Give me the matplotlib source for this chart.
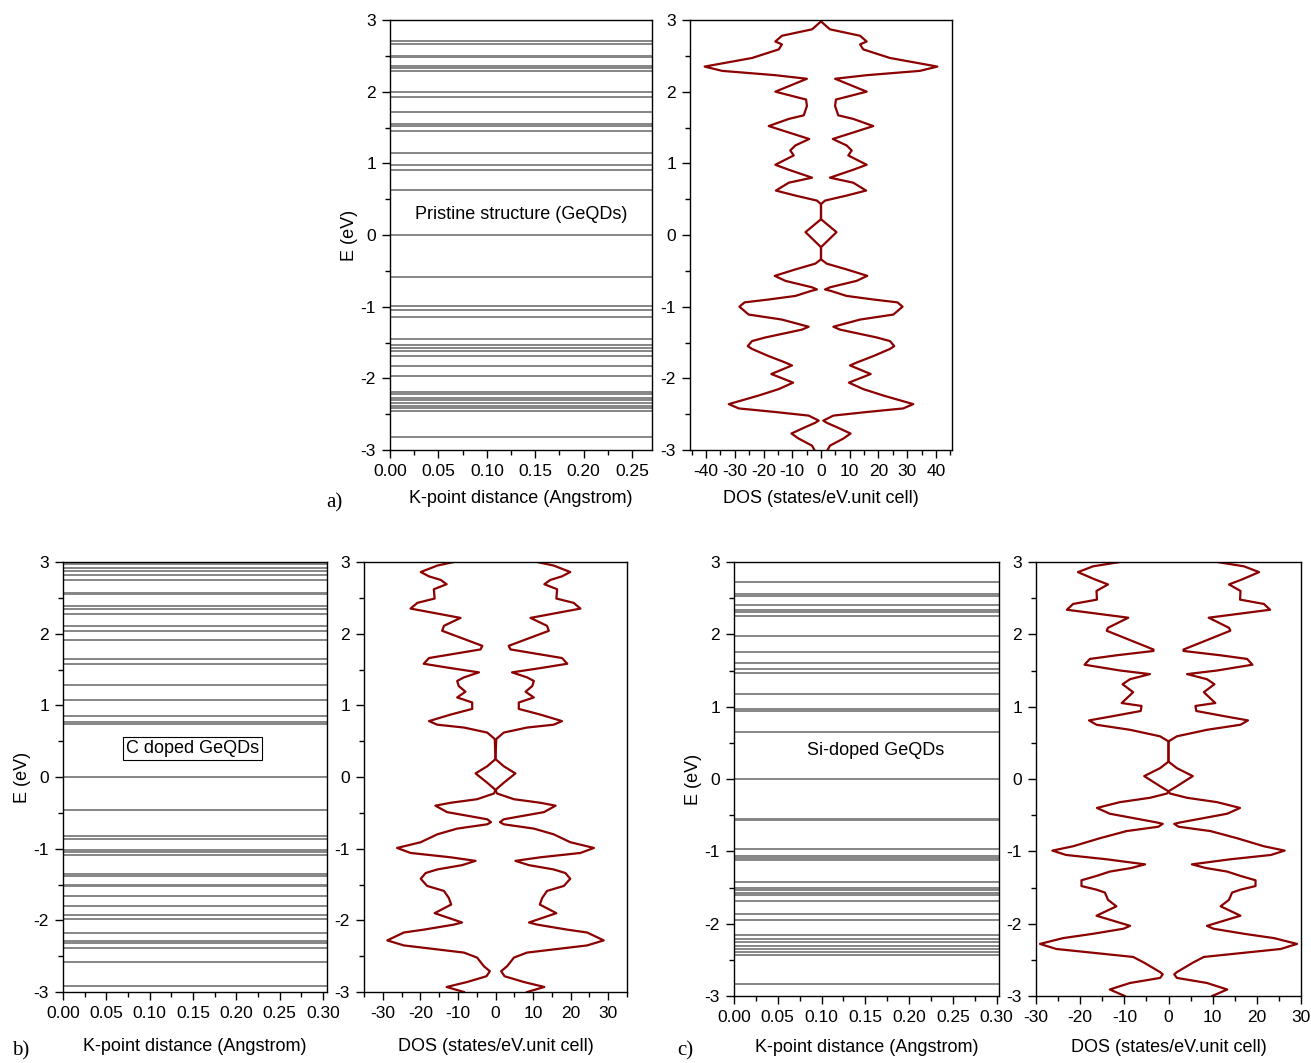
import matplotlib
matplotlib.use("Agg")
from matplotlib import pyplot as plt
from matplotlib.ticker import MultipleLocator, FormatStrFormatter
import numpy as np

plt.rcParams["font.family"] = ["Liberation Sans", "DejaVu Sans"]
plt.rcParams["axes.unicode_minus"] = False

# energy levels (eV) for each structure
levels_a = [2.71, 2.67, 2.50, 2.48, 2.36, 2.33, 2.29, 1.99, 1.93, 1.72, 1.55, 1.52,
            1.45, 1.14, 0.97, 0.91, 0.63, 0.0, -0.59, -0.99, -1.04, -1.15, -1.45,
            -1.54, -1.57, -1.62, -1.69, -1.83, -1.97, -2.19, -2.22, -2.27, -2.30,
            -2.34, -2.38, -2.42, -2.46, -2.82]
levels_b = [2.99, 2.97, 2.92, 2.87, 2.82, 2.75, 2.57, 2.55, 2.38, 2.34, 2.27, 2.11,
            2.04, 1.91, 1.64, 1.57, 1.28, 1.07, 0.85, 0.77, 0.74, 0.0, -0.46, -0.82,
            -0.86, -1.02, -1.05, -1.09, -1.36, -1.38, -1.50, -1.52, -1.66, -1.80,
            -1.92, -1.98, -2.17, -2.29, -2.32, -2.38, -2.58, -2.92]
levels_c = [2.73, 2.56, 2.53, 2.40, 2.34, 2.31, 2.26, 1.98, 1.75, 1.61, 1.52, 1.46,
            1.17, 0.97, 0.94, 0.65, 0.0, -0.55, -0.57, -0.97, -1.06, -1.09, -1.12,
            -1.43, -1.50, -1.53, -1.57, -1.61, -1.69, -1.86, -1.95, -2.16, -2.21,
            -2.26, -2.31, -2.35, -2.39, -2.43, -2.84]

# density of states (states/eV.unit cell), mirrored about zero
dos_a_E = [2.98, 2.87, 2.78, 2.70, 2.66, 2.59, 2.47, 2.35, 2.29, 2.23, 2.18, 2.00,
           1.89, 1.80, 1.67, 1.62, 1.52, 1.43, 1.34, 1.25, 1.18, 1.11, 0.98, 0.91,
           0.80, 0.73, 0.62, 0.55, 0.48, 0.43, 0.22, 0.04, -0.17, -0.34, -0.40,
           -0.48, -0.57, -0.64, -0.73, -0.76, -0.78, -0.85, -0.90, -0.94, -1.00,
           -1.11, -1.18, -1.28, -1.32, -1.43, -1.48, -1.55, -1.59, -1.69, -1.78,
           -1.82, -1.94, -2.06, -2.15, -2.24, -2.36, -2.42, -2.47, -2.52, -2.59,
           -2.62, -2.68, -2.77, -2.84, -2.94, -3.00]
dos_a = [0.0, 3.1, 13.6, 15.9, 13.6, 14.7, 24.0, 40.5, 34.4, 15.9, 4.9, 15.9,
         5.2, 4.9, 6.0, 11.2, 18.2, 11.2, 4.1, 8.9, 10.7, 9.5, 15.9, 11.2,
         3.1, 11.2, 15.7, 8.9, 1.4, 0.0, 0.0, 5.4, 0.0, 0.0, 2.0,
         8.9, 16.1, 12.4, 3.1, 1.4, 3.4, 8.9, 18.2, 26.6, 28.4,
         25.2, 13.6, 4.3, 6.6, 19.4, 24.0, 25.5, 24.0, 18.2, 12.4,
         10.1, 17.3, 9.7, 14.7, 21.7, 32.1, 28.6, 15.9, 4.3, 0.8,
         2.0, 5.4, 10.3, 7.8, 3.1, 2.3]

dos_b_E = [3.00, 2.95, 2.86, 2.80, 2.75, 2.69, 2.62, 2.49, 2.43, 2.35, 2.22, 2.11,
           2.04, 1.83, 1.78, 1.71, 1.66, 1.58, 1.52, 1.46, 1.39, 1.34, 1.27, 1.19,
           1.11, 1.04, 0.95, 0.87, 0.78, 0.73, 0.69, 0.62, 0.53, 0.25, 0.15, 0.05,
           -0.08, -0.18, -0.23, -0.31, -0.36, -0.40, -0.49, -0.59, -0.63, -0.66,
           -0.72, -0.80, -0.91, -0.99, -1.06, -1.12, -1.17, -1.23, -1.29, -1.34,
           -1.42, -1.52, -1.59, -1.69, -1.78, -1.90, -2.03, -2.06, -2.13, -2.17,
           -2.28, -2.35, -2.45, -2.52, -2.64, -2.71, -2.78, -2.86, -2.93, -3.00]
dos_b = [11.1, 15.5, 19.9, 17.7, 14.6, 13.0, 16.4, 16.2, 20.8, 22.6, 9.3, 13.7,
         14.2, 3.5, 4.0, 12.0, 17.7, 19.1, 12.0, 4.4, 8.4, 10.2, 9.8, 8.0,
         10.2, 6.2, 6.2, 12.0, 17.7, 15.5, 8.4, 2.2, 0.2, 0.0, 2.2, 5.3,
         2.2, 0.0, 0.4, 4.9, 12.0, 16.0, 12.9, 2.2, 1.2, 2.2,
         10.2, 15.5, 19.9, 26.2, 22.6, 12.0, 5.3, 8.9, 15.5, 18.6,
         19.9, 18.2, 13.7, 12.4, 11.8, 16.2, 8.9, 11.1, 19.1, 24.4,
         28.8, 24.4, 8.4, 4.9, 3.1, 1.5, 2.4, 7.5, 13.0, 8.4]

dos_c_E = [3.00, 2.94, 2.86, 2.76, 2.69, 2.60, 2.48, 2.42, 2.34, 2.23, 2.09, 2.05,
           1.79, 1.77, 1.71, 1.66, 1.58, 1.50, 1.45, 1.38, 1.31, 1.20, 1.05, 1.01,
           0.94, 0.87, 0.81, 0.75, 0.68, 0.59, 0.52, 0.24, 0.15, 0.04, -0.10,
           -0.17, -0.20, -0.26, -0.32, -0.40, -0.48, -0.60, -0.62, -0.66, -0.72,
           -0.82, -0.93, -0.99, -1.05, -1.11, -1.18, -1.23, -1.28, -1.34, -1.40,
           -1.48, -1.53, -1.57, -1.67, -1.76, -1.89, -2.03, -2.07, -2.14, -2.20,
           -2.28, -2.35, -2.46, -2.54, -2.67, -2.70, -2.75, -2.82, -2.91, -3.00]
dos_c = [11.0, 17.1, 20.5, 16.7, 13.7, 16.3, 16.2, 21.6, 23.0, 9.1, 13.7, 14.0,
         3.4, 3.4, 11.8, 17.8, 19.0, 11.0, 4.2, 8.7, 10.4, 8.0, 10.6, 6.1,
         6.3, 12.5, 18.0, 16.3, 8.7, 1.9, 0.0, 0.0, 1.9, 5.5, 1.9,
         0.0, 0.3, 4.2, 11.0, 16.2, 13.3, 2.7, 1.3, 2.3, 9.5,
         15.6, 21.6, 26.3, 23.2, 14.0, 5.3, 8.4, 13.3, 16.3, 19.7,
         19.7, 16.3, 14.4, 13.7, 11.8, 16.3, 8.7, 10.2, 17.1, 23.9,
         29.1, 25.4, 8.0, 5.5, 1.9, 1.3, 1.9, 8.7, 13.3, 9.9]

panel_names = ["Pristine structure (GeQDs)", "C doped GeQDs", "Si-doped GeQDs"]

W, H = 1311, 1063
fig = plt.figure(figsize=(W / 100, H / 100), dpi=100)


def add_axes_px(x0, y0, x1, y1):
    return fig.add_axes([x0 / W, 1 - y1 / H, (x1 - x0) / W, (y1 - y0) / H])


def style_axis(ax):
    ax.tick_params(which="both", direction="out", top=False, right=False,
                   labelsize=12.5, pad=4)
    ax.tick_params(which="major", length=6, width=1)
    ax.tick_params(which="minor", length=3.5, width=1)
    for s in ax.spines.values():
        s.set_linewidth(1.0)
    ax.set_ylim(-3, 3)
    ax.yaxis.set_major_locator(MultipleLocator(1))
    ax.yaxis.set_minor_locator(MultipleLocator(0.5))


def band_panel(ax, levels, kmax, name, text_x, text_y, boxed):
    ax.hlines(levels, 0, kmax, colors="#858585", linewidth=1.4)
    ax.set_xlim(0, kmax)
    style_axis(ax)
    ax.xaxis.set_major_locator(MultipleLocator(0.05))
    ax.xaxis.set_minor_locator(MultipleLocator(0.025))
    ax.xaxis.set_major_formatter(FormatStrFormatter("%.2f"))
    ax.set_xlabel("K-point distance (Angstrom)", fontsize=13)
    ax.set_ylabel("E (eV)", fontsize=13, labelpad=2)
    bbox = dict(boxstyle="square,pad=0.15", fc="white", ec="black", lw=0.8) if boxed else None
    ax.text(text_x, text_y, name, transform=ax.get_yaxis_transform(),
            ha="center", va="center", fontsize=13, bbox=bbox)


def dos_panel(ax, energy, dos, xmax):
    energy = np.array(energy)
    dos = np.array(dos)
    ax.plot(dos, energy, color="#8b0000", linewidth=1.6)
    ax.plot(-dos, energy, color="#8b0000", linewidth=1.6)
    ax.set_xlim(-xmax, xmax)
    style_axis(ax)
    ax.xaxis.set_major_locator(MultipleLocator(10))
    ax.xaxis.set_minor_locator(MultipleLocator(5))
    ax.set_xlabel("DOS (states/eV.unit cell)", fontsize=13)


ax_a1 = add_axes_px(390, 20, 652, 450)
ax_a2 = add_axes_px(690, 20, 952, 450)
ax_b1 = add_axes_px(63, 562, 327, 992)
ax_b2 = add_axes_px(364, 562, 627, 992)
ax_c1 = add_axes_px(734, 562, 999, 996)
ax_c2 = add_axes_px(1036, 562, 1301, 996)

band_panel(ax_a1, levels_a, 0.2706, panel_names[0], 0.5, 0.29, False)
band_panel(ax_b1, levels_b, 0.3045, panel_names[1], 0.49, 0.40, True)
band_panel(ax_c1, levels_c, 0.3027, panel_names[2], 0.536, 0.39, False)
dos_panel(ax_a2, dos_a_E, dos_a, 45.6)
dos_panel(ax_b2, dos_b_E, dos_b, 35)
dos_panel(ax_c2, dos_c_E, dos_c, 30)

ax_a1.xaxis.labelpad = 8
ax_a2.xaxis.labelpad = 8
ax_b1.xaxis.labelpad = 12
ax_b2.xaxis.labelpad = 12
ax_c1.xaxis.labelpad = 10
ax_c2.xaxis.labelpad = 10

for label, (x, y) in zip(["a)", "b)", "c)"], [(334, 503), (21, 1051), (685, 1051)]):
    fig.text(x / W, 1 - y / H, label, fontsize=15, family="Liberation Serif",
             ha="center", va="center")

fig.savefig("out.png", dpi=100)
